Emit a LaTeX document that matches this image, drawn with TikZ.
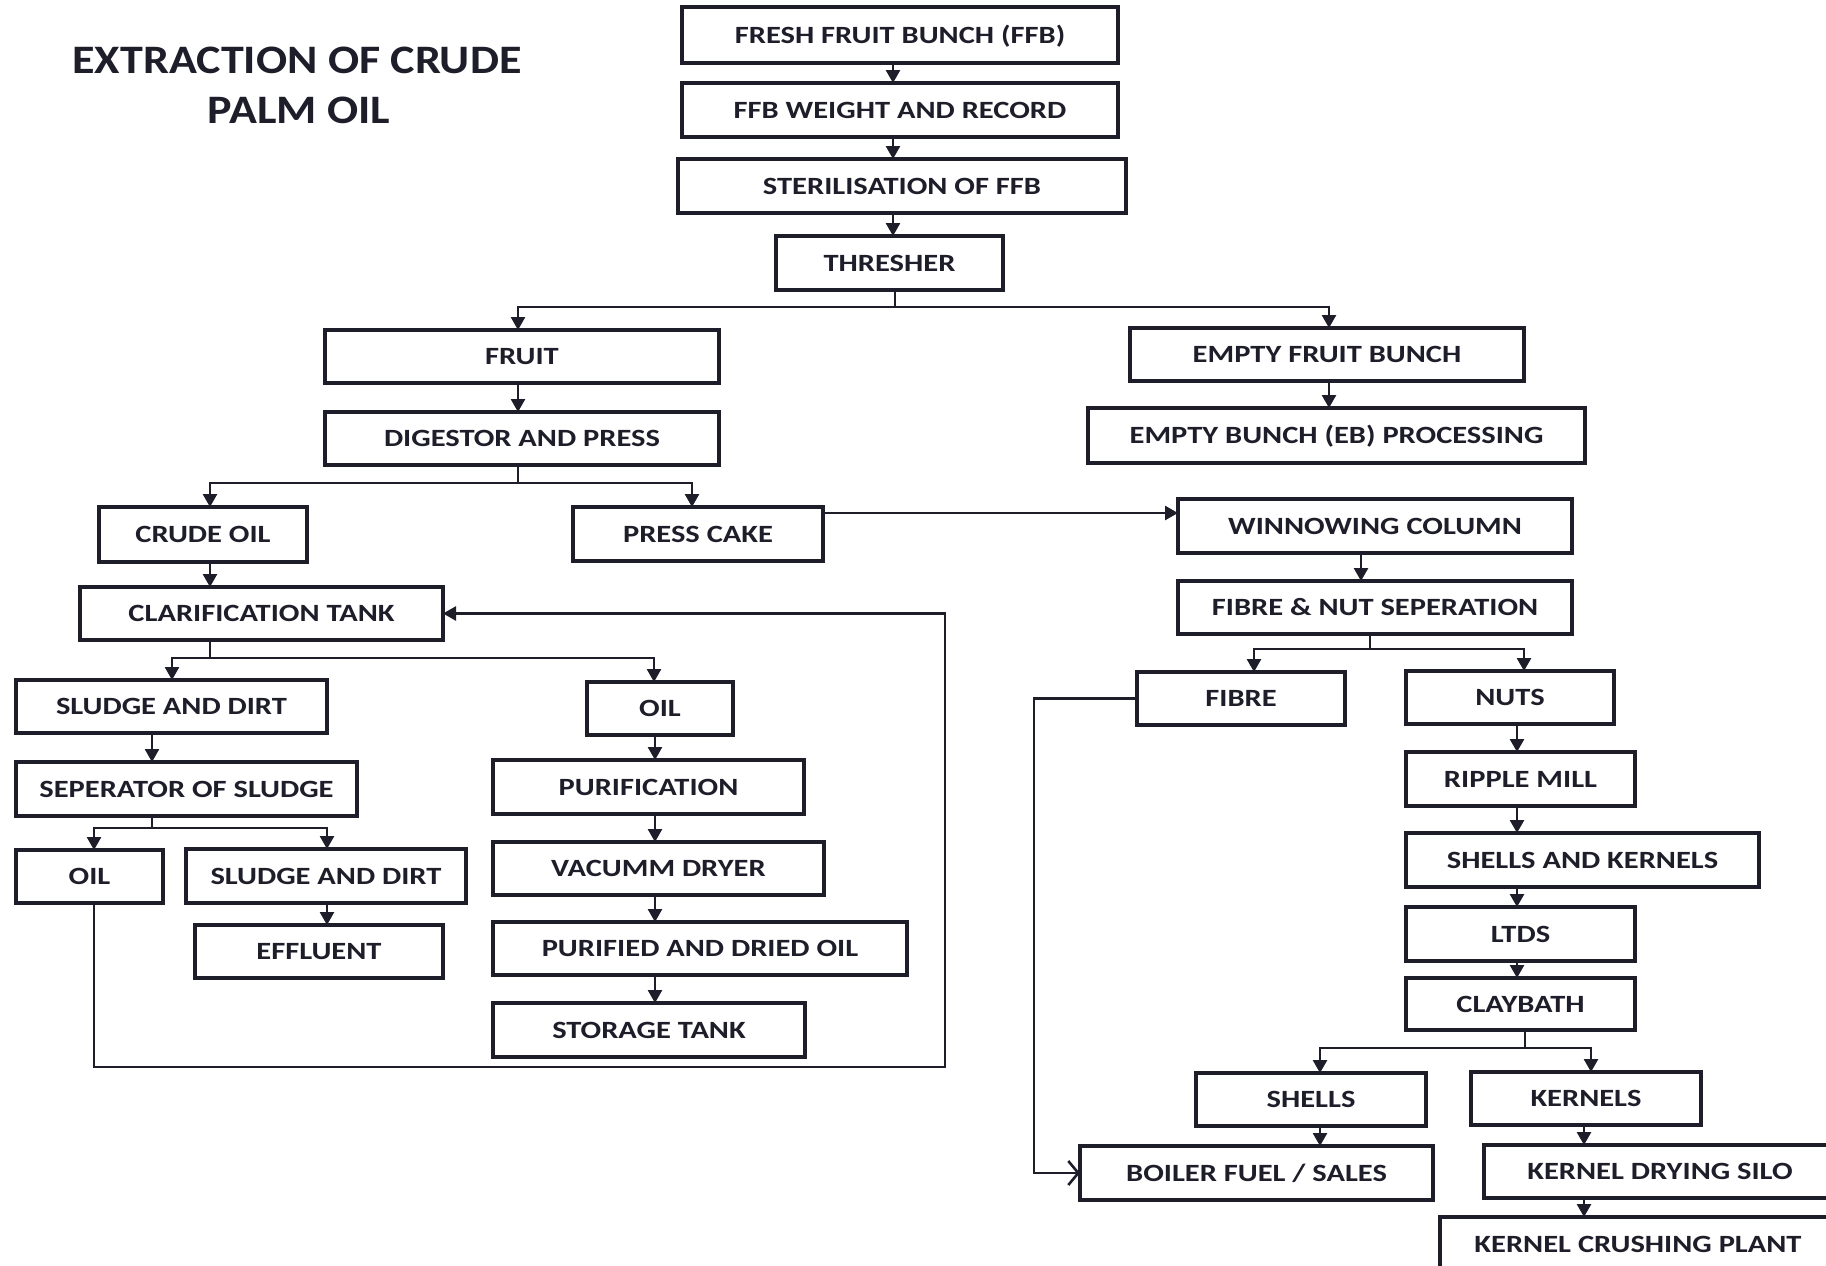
\documentclass[tikz,border=0pt]{standalone}
\usepackage{fontspec}
\setmainfont{Carlito}
\newfontfamily\boxfont{Carlito}[FakeStretch=1.23]
\newfontfamily\titlefont{Carlito}[FakeStretch=1.14]
\usetikzlibrary{arrows.meta}
\definecolor{ink}{RGB}{30,30,42}
\tikzset{
  box/.style={draw=ink, line width=1.8pt, inner sep=0pt, outer sep=0pt,
    text=ink, font=\boxfont\bfseries\fontsize{12.4pt}{14pt}\selectfont,
    text height=8pt, text depth=0pt},
  ttl/.style={text=ink, inner sep=0pt, font=\titlefont\bfseries\fontsize{20.2pt}{24pt}\selectfont},
  ln/.style={draw=ink, line width=1.3pt},
  arr/.style={ln, -{Triangle[length=6.5pt,width=7pt]}},
  oarr/.style={ln, -{Straight Barb[length=5pt,width=12pt,line width=1.3pt]}}
}
\newcommand\bx[6]{\node[box,minimum width={(#4-#2)*0.5pt},minimum height={(#5-#3)*0.5pt}] (#1) at ({(#2+#4)/2},{(#3+#5)/2}) {#6};}
\begin{document}
\begin{tikzpicture}[x=0.5pt,y=-0.5pt]
\useasboundingbox (0,0) rectangle (1826,1265);
\fill[white] (0,0) rectangle (1826,1265);
\clip (0,0) rectangle (1826,1265);
% title
\node[ttl, anchor=base] (title1) at (297,73) {EXTRACTION OF CRUDE};
\node[ttl, anchor=base] (title2) at (299,123) {PALM OIL};
% boxes
\bx{ffb}{682}{7}{1118}{63}{FRESH FRUIT BUNCH (FFB)}
\bx{wr}{682}{83}{1118}{137}{FFB WEIGHT AND RECORD}
\bx{ster}{678}{159}{1126}{213}{STERILISATION OF FFB}
\bx{thr}{776}{236}{1003}{290}{THRESHER}
\bx{fruit}{325}{330}{719}{383}{FRUIT}
\bx{dig}{325}{412}{719}{465}{DIGESTOR AND PRESS}
\bx{crude}{99}{507}{307}{562}{CRUDE OIL}
\bx{pc}{573}{507}{823}{561}{PRESS CAKE}
\bx{clar}{80}{587}{443}{640}{CLARIFICATION TANK}
\bx{sdA}{16}{680}{327}{733}{SLUDGE AND DIRT}
\bx{oilR}{587}{682}{733}{735}{OIL}
\bx{sep}{16}{762}{357}{816}{SEPERATOR OF SLUDGE}
\bx{oilL}{16}{850}{163}{903}{OIL}
\bx{sdB}{186}{849}{466}{903}{SLUDGE AND DIRT}
\bx{eff}{195}{925}{443}{978}{EFFLUENT}
\bx{pur}{493}{760}{804}{814}{PURIFICATION}
\bx{vac}{493}{842}{824}{895}{VACUMM DRYER}
\bx{pdo}{493}{922}{907}{975}{PURIFIED AND DRIED OIL}
\bx{stor}{493}{1003}{805}{1057}{STORAGE TANK}
\bx{efb}{1130}{328}{1524}{381}{EMPTY FRUIT BUNCH}
\bx{ebp}{1088}{408}{1585}{463}{EMPTY BUNCH (EB) PROCESSING}
\bx{win}{1178}{499}{1572}{553}{WINNOWING COLUMN}
\bx{fns}{1178}{581}{1572}{634}{FIBRE \& NUT SEPERATION}
\bx{fib}{1137}{672}{1345}{725}{FIBRE}
\bx{nuts}{1406}{671}{1614}{724}{NUTS}
\bx{rip}{1406}{752}{1635}{806}{RIPPLE MILL}
\bx{sk}{1406}{833}{1759}{887}{SHELLS AND KERNELS}
\bx{ltds}{1406}{907}{1635}{961}{LTDS}
\bx{clay}{1406}{978}{1635}{1030}{CLAYBATH}
\bx{shells}{1196}{1073}{1426}{1126}{SHELLS}
\bx{kern}{1471}{1072}{1701}{1125}{KERNELS}
\bx{boil}{1080}{1146}{1433}{1200}{BOILER FUEL / SALES}
\bx{kds}{1484}{1145}{1836}{1198}{KERNEL DRYING SILO}
\bx{kcp}{1440}{1217}{1836}{1271}{KERNEL CRUSHING PLANT}
% helper coordinates
\coordinate (x893) at (893,0);
\coordinate (x518) at (518,0);
\coordinate (x1329) at (1329,0);
\coordinate (x210) at (210,0);
\coordinate (x692) at (692,0);
\coordinate (x172) at (172,0);
\coordinate (x654) at (654,0);
\coordinate (x152) at (152,0);
\coordinate (x94) at (94,0);
\coordinate (x327) at (327,0);
\coordinate (x655) at (655,0);
\coordinate (x1361) at (1361,0);
\coordinate (x1254) at (1254,0);
\coordinate (x1524) at (1524,0);
\coordinate (x1517) at (1517,0);
\coordinate (x1320) at (1320,0);
\coordinate (x1591) at (1591,0);
\coordinate (x1584) at (1584,0);
\coordinate (y513) at (0,513);
\coordinate (j1) at (895,307);
\coordinate (j2) at (518,483);
\coordinate (j3) at (210,658);
\coordinate (j4) at (152,828);
\coordinate (j5) at (1370,649);
\coordinate (j6) at (1525,1048);
\coordinate (l1) at (945,1067);
\coordinate (l2) at (1034,1173);
% top chain
\draw[arr] (ffb.south -| x893) -- (wr.north -| x893);
\draw[arr] (wr.south -| x893) -- (ster.north -| x893);
\draw[arr] (ster.south -| x893) -- (thr.north -| x893);
\draw[ln] (thr.south -| j1) -- (j1);
\draw[arr] (j1) -| (fruit.north -| x518);
\draw[arr] (j1) -| (efb.north -| x1329);
\draw[arr] (fruit.south -| x518) -- (dig.north -| x518);
\draw[arr] (efb.south -| x1329) -- (ebp.north -| x1329);
% digestor branch
\draw[ln] (dig.south -| j2) -- (j2);
\draw[arr] (j2) -| (crude.north -| x210);
\draw[arr] (j2) -| (pc.north -| x692);
\draw[arr] (crude.south -| x210) -- (clar.north -| x210);
% clarification branch
\draw[ln] (clar.south -| j3) -- (j3);
\draw[arr] (j3) -| (sdA.north -| x172);
\draw[arr] (j3) -| (oilR.north -| x654);
\draw[arr] (sdA.south -| x152) -- (sep.north -| x152);
\draw[ln] (sep.south -| j4) -- (j4);
\draw[arr] (j4) -| (oilL.north -| x94);
\draw[arr] (j4) -| (sdB.north -| x327);
\draw[arr] (sdB.south -| x327) -- (eff.north -| x327);
\draw[arr] (oilR.south -| x655) -- (pur.north -| x655);
\draw[arr] (pur.south -| x655) -- (vac.north -| x655);
\draw[arr] (vac.south -| x655) -- (pdo.north -| x655);
\draw[arr] (pdo.south -| x655) -- (stor.north -| x655);
\draw[arr] (oilL.south -| x94) |- (l1) |- (clar.east);
% press cake
\draw[arr] (pc.east |- y513) -- (win.west |- y513);
\draw[arr] (win.south -| x1361) -- (fns.north -| x1361);
\draw[ln] (fns.south -| j5) -- (j5);
\draw[arr] (j5) -| (fib.north -| x1254);
\draw[arr] (j5) -| (nuts.north -| x1524);
\draw[oarr] (fib.west) -| (l2) -- (boil.west);
\draw[arr] (nuts.south -| x1517) -- (rip.north -| x1517);
\draw[arr] (rip.south -| x1517) -- (sk.north -| x1517);
\draw[arr] (sk.south -| x1517) -- (ltds.north -| x1517);
\draw[arr] (ltds.south -| x1517) -- (clay.north -| x1517);
\draw[ln] (clay.south -| j6) -- (j6);
\draw[arr] (j6) -| (shells.north -| x1320);
\draw[arr] (j6) -| (kern.north -| x1591);
\draw[arr] (shells.south -| x1320) -- (boil.north -| x1320);
\draw[arr] (kern.south -| x1584) -- (kds.north -| x1584);
\draw[arr] (kds.south -| x1584) -- (kcp.north -| x1584);
\end{tikzpicture}
\end{document}
